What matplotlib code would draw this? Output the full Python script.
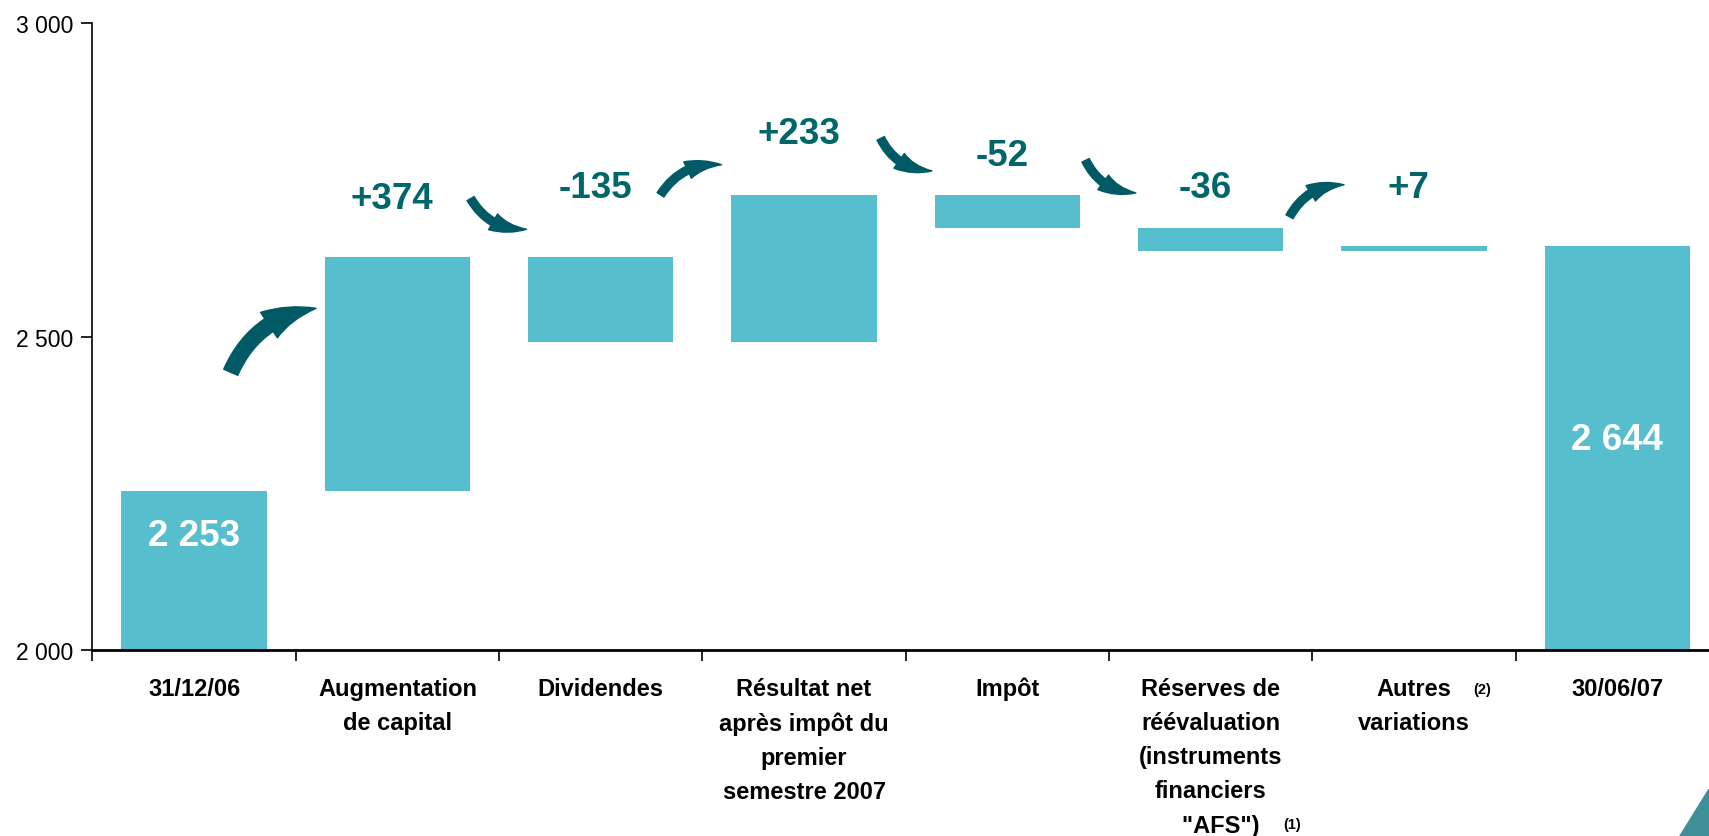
import matplotlib.pyplot as plt
import matplotlib.transforms as mtransforms
from matplotlib.patches import FancyArrowPatch, Polygon

plt.rcParams['font.family'] = ['Liberation Sans', 'DejaVu Sans']

# data
categories = ['31/12/06', 'Augmentation\nde capital', 'Dividendes',
              'Résultat net\naprès impôt du\npremier\nsemestre 2007', 'Impôt',
              'Réserves de\nréévaluation\n(instruments\nfinanciers\n   "AFS")',
              'Autres\nvariations', '30/06/07']
start_value = 2253
deltas = [374, -135, 233, -52, -36, 7]
end_value = 2644
yticks = [2000, 2500, 3000]
ytick_labels = ['2 000', '2 500', '3 000']

bar_color = '#56BECC'
label_color = '#006669'
arrow_color = '#005A65'

# layout bits (not data)
label_offsets = [93, 110, 99, 64, 64, 93]    # text above the bar top
total_label_y = [2182, 2336]
arrows = [(0.18, 2443, 0.60, 2545, 'big'),
          (1.36, 2720, 1.635, 2671, 'small'),
          (2.294, 2726, 2.594, 2774, 'small'),
          (3.377, 2816, 3.629, 2764, 'small'),
          (4.385, 2781, 4.632, 2729, 'small'),
          (5.388, 2691, 5.656, 2742, 'small')]

fig = plt.figure(figsize=(17.09, 8.37), dpi=100)
ax = fig.add_axes([0.0541, 0.2222, 0.9517, 0.7491])

# waterfall bars
bottoms = [2000]
heights = [start_value - 2000]
level = start_value
for d in deltas:
    if d >= 0:
        bottoms.append(level)
    else:
        bottoms.append(level + d)
    heights.append(abs(d))
    level += d
bottoms.append(2000)
heights.append(end_value - 2000)

xs = list(range(len(categories)))
ax.bar(xs, heights, bottom=bottoms, width=0.715, color=bar_color, zorder=2)

# delta labels
level = start_value
for i, d in enumerate(deltas):
    top = max(level, level + d)
    txt = '+%d' % d if d > 0 else '%d' % d
    ax.text(i + 1 - 0.025, top + label_offsets[i], txt, ha='center', va='center',
            fontsize=26.5, fontweight='bold', color=label_color)
    level += d

ax.text(0, total_label_y[0], '2 253', ha='center', va='center',
        fontsize=26.5, fontweight='bold', color='white')
ax.text(7, total_label_y[1], '2 644', ha='center', va='center',
        fontsize=26.5, fontweight='bold', color='white')

# curved arrows
for x0, y0, x1, y1, size in arrows:
    if size == 'big':
        rad = -0.28
        style = 'simple,head_width=1.1,head_length=1.8,tail_width=0.55'
        ms = 20
    else:
        rad = -0.3 if y1 > y0 else 0.3
        style = 'simple,head_width=1.0,head_length=1.9,tail_width=0.45'
        ms = 13
    arr = FancyArrowPatch((x0, y0), (x1, y1), arrowstyle=style,
                          connectionstyle='arc3,rad=%s' % rad,
                          mutation_scale=ms, color=arrow_color,
                          shrinkA=0, shrinkB=0, zorder=3)
    ax.add_patch(arr)

ax.set_xlim(-0.5, 7.5)
ax.set_ylim(2000, 3000)
ax.set_yticks(yticks)
ax.set_yticklabels(ytick_labels, fontsize=16.5)
ax.set_xticks([i - 0.5 for i in range(len(categories) + 1)])
ax.set_xticklabels([])
ax.tick_params(axis='x', length=8, width=1.2, direction='out')
ax.tick_params(axis='y', length=8, width=1.2, direction='out', pad=6)

for s in ['top', 'right']:
    ax.spines[s].set_visible(False)
ax.spines['left'].set_linewidth(1.2)
ax.spines['bottom'].set_linewidth(2)
ax.spines['bottom'].set_zorder(4)

# category labels under the axis
trans = mtransforms.blended_transform_factory(ax.transData, ax.transAxes)
for i, c in enumerate(categories):
    ax.text(i, -0.043, c, transform=trans, ha='center', va='top',
            fontsize=17, fontweight='bold', linespacing=1.62)
ax.text(6.335, -0.0622, '(2)', transform=trans, ha='center', va='center',
        fontsize=10.5, fontweight='bold')
ax.text(5.40, -0.2775, '(1)', transform=trans, ha='center', va='center',
        fontsize=10.5, fontweight='bold')

# corner swoosh of the slide template
fig.patches.append(Polygon([(0.983, 0.0), (1.0, 0.056), (1.0, 0.0)],
                           closed=True, transform=fig.transFigure,
                           color='#3F8F96', zorder=0))

fig.savefig('out.png', dpi=100)
